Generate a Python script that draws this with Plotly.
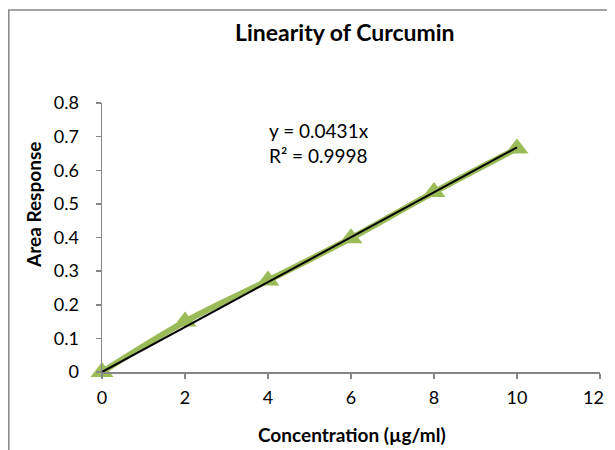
import plotly.graph_objects as go

conc = [0, 2, 4, 6, 8, 10]
area = [0.0, 0.150, 0.272, 0.398, 0.535, 0.665]
trend_x = [0, 10]
trend_y = [0.0, 0.668]
x_ticks = [0, 2, 4, 6, 8, 10, 12]
y_ticks = [0, 0.1, 0.2, 0.3, 0.4, 0.5, 0.6, 0.7, 0.8]
y_tick_text = ["0", "0.1", "0.2", "0.3", "0.4", "0.5", "0.6", "0.7", "0.8"]

W, H = 607, 450
# plot area in screen coords
SL, SR, ST, SB = 102, 600, 103, 372
L, T = SL, ST
R = W - SR
B = H - SB
pw, ph = W - L - R, H - T - B

def px(xs):
    return (xs - L) / pw

def py(ys):
    return (H - B - ys) / ph

FONT = "Lato"
fig = go.Figure()
fig.add_trace(go.Scatter(
    x=conc, y=area, mode="lines+markers",
    line=dict(color="#9BBB59", width=6, shape="spline"),
    marker=dict(symbol="triangle-up", size=20, color="#9BBB59"),
    cliponaxis=False, showlegend=False, hoverinfo="skip"))
fig.add_trace(go.Scatter(
    x=trend_x, y=trend_y, mode="lines",
    line=dict(color="black", width=2), cliponaxis=False, showlegend=False,
    hoverinfo="skip"))

axis_common = dict(showgrid=False, zeroline=False, showline=True,
                   linecolor="#868686", linewidth=1.5, ticks="outside",
                   tickcolor="#868686", ticklen=5, tickwidth=1.5,
                   tickfont=dict(family=FONT, size=18, color="black"))
# last x tick label is drawn separately so it is not hidden at the page edge
x_tick_text = [str(v) for v in x_ticks[:-1]] + [""]
fig.update_xaxes(range=[0, 12], tickvals=x_ticks, ticktext=x_tick_text,
                 ticklabelstandoff=4, **axis_common)
fig.update_yaxes(range=[0, 0.8], tickvals=y_ticks, ticktext=y_tick_text,
                 ticklabelstandoff=13, **axis_common)

fig.add_annotation(text=str(x_ticks[-1]), xref="x", yref="paper", x=x_ticks[-1],
                   y=py(397), xanchor="right", yanchor="middle", xshift=6,
                   showarrow=False, font=dict(family=FONT, size=18, color="black"))

def note(text, x, y, size, **kw):
    opts = dict(xanchor="center", yanchor="middle")
    opts.update(kw)
    fig.add_annotation(text=text, xref="paper", yref="paper", x=px(x), y=py(y),
                       showarrow=False, font=dict(family=FONT, size=size, color="black"),
                       **opts)

note("<b>Linearity of Curcumin</b>", 345, 32, 23)
note("<b>Area Response</b>", 33, 205, 19, textangle=-90)
note("<b>Concentration (µg/ml)</b>", 352, 434, 19)
note("y = 0.0431x<br>R² = 0.9998", 267, 143, 19, xanchor="left", align="left")

fig.add_shape(type="rect", xref="paper", yref="paper",
              x0=px(8.8), y0=py(470), x1=px(640), y1=py(10),
              line=dict(color="#868686", width=1.5), layer="below")

fig.update_layout(width=W, height=H, margin=dict(l=L, r=R, t=T, b=B),
                  plot_bgcolor="white", paper_bgcolor="white", hovermode=False)
fig.write_html("out.html", config={"displayModeBar": False, "staticPlot": True},
               post_script="document.body.style.margin='0';document.body.style.overflow='hidden';")
